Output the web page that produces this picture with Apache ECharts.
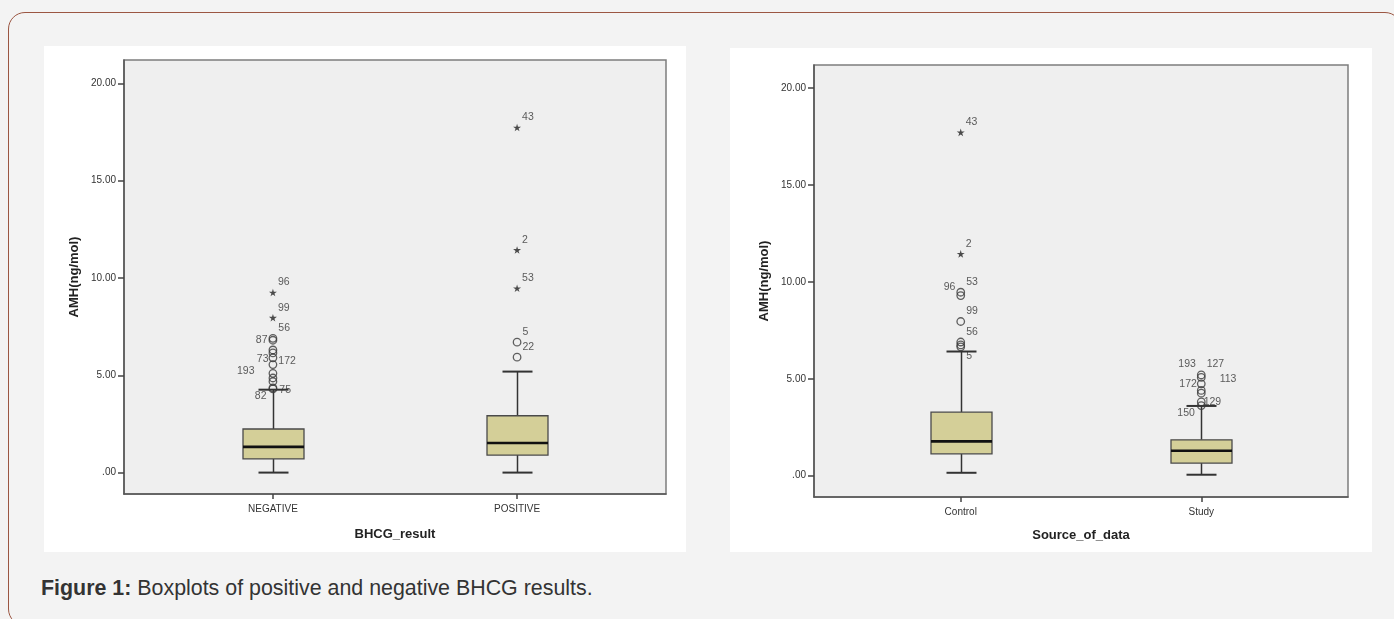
<!DOCTYPE html>
<html>
<head>
<meta charset="utf-8">
<script src="https://cdn.jsdelivr.net/npm/echarts@6.0.0/dist/echarts.min.js"></script>
<style>
html,body{margin:0;padding:0;width:1394px;height:619px;overflow:hidden;background:#f3f3f3;}
#frame{position:absolute;left:8px;top:12px;width:1394px;height:614px;border:1.5px solid #9b5642;border-radius:17px;box-sizing:border-box;}
.panel{position:absolute;background:#ffffff;}
#p1{left:44px;top:46px;width:642px;height:506px;}
#p2{left:730px;top:48px;width:642px;height:504px;}
#caption{position:absolute;left:41px;top:576px;font-family:'Liberation Sans',Arial,sans-serif;font-size:21.4px;color:#333;white-space:nowrap;}
#chart{position:absolute;left:0;top:0;width:1394px;height:619px;}
</style>
</head>
<body>
<div id="frame"></div>
<div class="panel" id="p1"></div>
<div class="panel" id="p2"></div>
<div id="caption"><b>Figure 1:</b> Boxplots of positive and negative BHCG results.</div>
<div id="chart"></div>
<script>
// ---------------- DATA ----------------
// Left chart: AMH by BHCG result
const bhcgCategories = ['NEGATIVE', 'POSITIVE'];
// [low whisker, Q1, median, Q3, high whisker]
const bhcgNegativeBox = [0.00, 0.70, 1.32, 2.24, 4.26];
const bhcgPositiveBox = [0.00, 0.90, 1.52, 2.92, 5.19];
const bhcgNegOutlierValues = [9.25, 7.96, 6.90, 6.80, 6.30, 6.15, 5.90, 5.55, 5.10, 4.86, 4.68, 4.35, 4.30];
const bhcgNegOutlierIds    = ['96', '99', '56', '87', '', '', '73', '172', '193', '', '', '82', '75'];
const bhcgNegOutlierKinds  = ['star', 'star', 'circle', 'circle', 'circle', 'circle', 'circle', 'circle', 'circle', 'circle', 'circle', 'circle', 'circle'];
const bhcgPosOutlierValues = [17.73, 11.44, 9.47, 6.70, 5.93];
const bhcgPosOutlierIds    = ['43', '2', '53', '5', '22'];
const bhcgPosOutlierKinds  = ['star', 'star', 'star', 'circle', 'circle'];

// Right chart: AMH by source of data
const sourceCategories = ['Control', 'Study'];
const sourceControlBox = [0.15, 1.13, 1.77, 3.28, 6.41];
const sourceStudyBox   = [0.05, 0.65, 1.29, 1.85, 3.60];
const controlOutlierValues = [17.72, 11.45, 9.47, 9.30, 7.96, 6.90, 6.75, 6.65];
const controlOutlierIds    = ['43', '2', '53', '96', '99', '56', '', '5'];
const controlOutlierKinds  = ['star', 'star', 'circle', 'circle', 'circle', 'circle', 'circle', 'circle'];
const studyOutlierValues = [5.20, 5.07, 4.74, 4.40, 4.26, 3.81, 3.62];
const studyOutlierIds    = ['193', '127', '172', '113', '', '129', '150'];
const studyOutlierKinds  = ['circle', 'circle', 'circle', 'circle', 'circle', 'circle', 'circle'];

const yTickValues = [0, 5, 10, 15, 20];
const yAxisTitle = 'AMH(ng/mol)';
const leftXTitle = 'BHCG_result';
const rightXTitle = 'Source_of_data';

// ---------------- STYLES ----------------
// label placement per outlier id: [side, distance, dy]
const DEFAULT_PLACE = ['right', 1, -10];
const placeNeg = {'87': ['left', 1, 0], '73': ['left', 0, 1], '172': ['right', 1, -3], '193': ['left', 14, -2], '82': ['left', 2, 8], '75': ['right', 2, 1]};
const placePos = {};
const placeControl = {'96': ['left', 1, -8], '5': ['right', 1, 9]};
const placeStudy = {'193': ['left', 1, -11], '127': ['right', 1, -13], '172': ['left', 0, 0], '113': ['right', 14, -11], '129': ['right', -2, 0], '150': ['left', 2, 8]};

const STAR = 'path://M50,0 L61,35 L98,35 L68,57 L79,91 L50,70 L21,91 L32,57 L2,35 L39,35 Z';
const FONT = "'Liberation Sans', Arial, sans-serif";

function buildOutliers(xPos, vals, ids, kinds, place) {
  return vals.map(function (v, i) {
    const p = place[ids[i]] || DEFAULT_PLACE;
    const isStar = kinds[i] === 'star';
    return {
      value: [xPos, v],
      name: ids[i],
      symbol: isStar ? STAR : 'circle',
      symbolSize: isStar ? 8 : 7.5,
      itemStyle: isStar ? {color: '#222', borderWidth: 0}
                        : {color: 'rgba(0,0,0,0)', borderColor: '#3a3a3a', borderWidth: 1.3},
      label: {show: ids[i] !== '', position: p[0], distance: p[1], offset: [0, p[2]]}
    };
  });
}

function renderBox(params, api) {
  const x = api.value(0);
  const pLow = api.coord([x, api.value(1)]);
  const pQ1 = api.coord([x, api.value(2)]);
  const pMed = api.coord([x, api.value(3)]);
  const pQ3 = api.coord([x, api.value(4)]);
  const pHigh = api.coord([x, api.value(5)]);
  const bw = 61, cw = 30;
  const cx = Math.round(pMed[0]) + 0.5;
  const lineStyle = {stroke: '#333', lineWidth: 1.5};
  return {
    type: 'group',
    children: [
      {type: 'line', shape: {x1: cx, y1: pLow[1], x2: cx, y2: pQ1[1]}, style: lineStyle},
      {type: 'line', shape: {x1: cx, y1: pQ3[1], x2: cx, y2: pHigh[1]}, style: lineStyle},
      {type: 'line', shape: {x1: cx - cw / 2, y1: pLow[1], x2: cx + cw / 2, y2: pLow[1]}, style: {stroke: '#333', lineWidth: 2}},
      {type: 'line', shape: {x1: cx - cw / 2, y1: pHigh[1], x2: cx + cw / 2, y2: pHigh[1]}, style: {stroke: '#333', lineWidth: 2}},
      {type: 'rect', shape: {x: cx - bw / 2, y: pQ3[1], width: bw, height: pQ1[1] - pQ3[1]},
       style: {fill: '#d4cf98', stroke: '#4a4a4a', lineWidth: 1.3}},
      {type: 'line', shape: {x1: cx - bw / 2, y1: pMed[1], x2: cx + bw / 2, y2: pMed[1]}, style: {stroke: '#111', lineWidth: 2.6}}
    ]
  };
}

function yAxisDef(gridIndex, gap) {
  return {
    type: 'value', gridIndex: gridIndex, min: -1.1, max: 21.2,
    name: yAxisTitle, nameLocation: 'middle', nameGap: gap, nameRotate: 90,
    nameTextStyle: {fontFamily: FONT, fontWeight: 'bold', fontSize: 13, color: '#222'},
    splitLine: {show: false},
    axisLine: {show: true, lineStyle: {color: '#555', width: 1.5}},
    axisTick: {show: true, length: 6, customValues: yTickValues, lineStyle: {color: '#444', width: 1.5}},
    axisLabel: {customValues: yTickValues, margin: 8, fontFamily: FONT, fontSize: 10, color: '#333',
      formatter: function (v) { return v === 0 ? '.00' : v.toFixed(2); }}
  };
}

function xAxisDef(gridIndex, cats, title, gap) {
  return {
    type: 'value', gridIndex: gridIndex, min: 0.39, max: 2.61,
    name: title, nameLocation: 'middle', nameGap: gap,
    nameTextStyle: {fontFamily: FONT, fontWeight: 'bold', fontSize: 13, color: '#222'},
    splitLine: {show: false},
    axisLine: {show: true, onZero: false, lineStyle: {color: '#555', width: 1.5}},
    axisTick: {show: true, length: 5, customValues: [1, 2], lineStyle: {color: '#444', width: 1.5}},
    axisLabel: {customValues: [1, 2], margin: 10, fontFamily: FONT, fontSize: 10, color: '#333',
      formatter: function (v) { return cats[Math.round(v) - 1]; }}
  };
}

const outlierLabel = {show: true, formatter: '{b}', fontFamily: FONT, fontSize: 10.5, color: '#333'};

const chart = echarts.init(document.getElementById('chart'), null, {renderer: 'canvas'});
chart.setOption({
  animation: false,
  backgroundColor: 'transparent',
  grid: [
    {left: 124, top: 60, width: 542, height: 434, show: true, backgroundColor: '#efefef', borderColor: '#7d7d7d', borderWidth: 1.5},
    {left: 814, top: 65, width: 534, height: 432, show: true, backgroundColor: '#efefef', borderColor: '#7d7d7d', borderWidth: 1.5}
  ],
  xAxis: [xAxisDef(0, bhcgCategories, leftXTitle, 34), xAxisDef(1, sourceCategories, rightXTitle, 32)],
  yAxis: [yAxisDef(0, 43), yAxisDef(1, 43)],
  series: [
    {type: 'custom', xAxisIndex: 0, yAxisIndex: 0, renderItem: renderBox, encode: {x: 0, y: [1, 2, 3, 4, 5]},
     data: [[1].concat(bhcgNegativeBox), [2].concat(bhcgPositiveBox)]},
    {type: 'custom', xAxisIndex: 1, yAxisIndex: 1, renderItem: renderBox, encode: {x: 0, y: [1, 2, 3, 4, 5]},
     data: [[1].concat(sourceControlBox), [2].concat(sourceStudyBox)]},
    {type: 'scatter', xAxisIndex: 0, yAxisIndex: 0, symbolKeepAspect: true, label: outlierLabel,
     data: buildOutliers(1, bhcgNegOutlierValues, bhcgNegOutlierIds, bhcgNegOutlierKinds, placeNeg)},
    {type: 'scatter', xAxisIndex: 0, yAxisIndex: 0, symbolKeepAspect: true, label: outlierLabel,
     data: buildOutliers(2, bhcgPosOutlierValues, bhcgPosOutlierIds, bhcgPosOutlierKinds, placePos)},
    {type: 'scatter', xAxisIndex: 1, yAxisIndex: 1, symbolKeepAspect: true, label: outlierLabel,
     data: buildOutliers(1, controlOutlierValues, controlOutlierIds, controlOutlierKinds, placeControl)},
    {type: 'scatter', xAxisIndex: 1, yAxisIndex: 1, symbolKeepAspect: true, label: outlierLabel,
     data: buildOutliers(2, studyOutlierValues, studyOutlierIds, studyOutlierKinds, placeStudy)}
  ]
});
</script>
</body>
</html>
